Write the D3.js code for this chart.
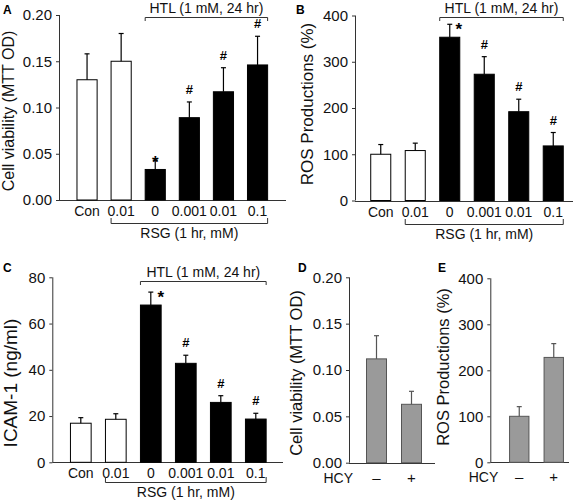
<!DOCTYPE html>
<html><head><meta charset="utf-8">
<script src="https://cdn.jsdelivr.net/npm/d3@7/dist/d3.min.js"></script>
<style>
html,body{margin:0;padding:0;background:#fff;}
svg{display:block;font-family:"Liberation Sans",Arial,sans-serif;}
</style></head>
<body>
<svg id="chart" width="576" height="503"></svg>
<script>
// ---- data ----
const treatCats = ["Con", "0.01", "0", "0.001", "0.01", "0.1"];
const treatFill = ["white", "white", "black", "black", "black", "black"];
const treatMarks = ["", "", "*", "#", "#", "#"];

const viabilityA = [0.130, 0.150, 0.033, 0.089, 0.117, 0.146];
const viabilityErrA = [0.028, 0.030, 0.010, 0.017, 0.026, 0.031];

const rosB = [100, 108, 353, 273, 192, 118];
const rosErrB = [21, 16, 28, 38, 27, 29];

const icamC = [16.9, 18.6, 68.0, 42.8, 25.9, 18.7];
const icamErrC = [2.4, 2.4, 5.6, 3.5, 2.9, 2.5];

const hcyCats = ["–", "+"];
const viabilityD = [0.112, 0.063];
const viabilityErrD = [0.025, 0.014];
const rosE = [100, 228];
const rosErrE = [21, 30];

const ticksViability = [0, 0.05, 0.10, 0.15, 0.20];
const ticksRos = [0, 100, 200, 300, 400];
const ticksIcam = [0, 20, 40, 60, 80];

const htlLabel = "HTL (1 mM, 24 hr)";
const rsgLabel = "RSG (1 hr, mM)";

// ---- drawing ----
const svg = d3.select("#chart");
const AXC = "#333";

function panel(o) {
  const g = svg.append("g");
  const n = o.values.length;
  const x = d3.scaleBand().domain(d3.range(n)).range([o.x0, o.x1])
    .paddingInner(o.pad).paddingOuter(o.pad / 2);
  const y = d3.scaleLinear().domain(o.domain).range([o.yBottom, o.yTop]);
  const bw = x.bandwidth();

  // y axis
  const ax = g.append("g").attr("transform", `translate(${o.axisX},0)`)
    .call(d3.axisLeft(y).tickValues(o.ticks).tickFormat(o.fmt).tickSize(3).tickPadding(4));
  ax.select(".domain").remove();
  ax.selectAll(".tick line").attr("stroke", AXC);
  ax.selectAll("text").attr("font-size", 15).attr("fill", "#111")
    .attr("font-family", "Liberation Sans, Arial, sans-serif");
  g.append("line").attr("x1", o.axisX + 0.5).attr("x2", o.axisX + 0.5)
    .attr("y1", y(o.domain[1])).attr("y2", y(0)).attr("stroke", AXC);
  // x axis line
  g.append("line").attr("x1", o.axisX).attr("x2", o.xEnd)
    .attr("y1", Math.round(y(0)) + 0.5).attr("y2", Math.round(y(0)) + 0.5).attr("stroke", AXC);

  // bars
  g.selectAll("rect.bar").data(o.values).join("rect")
    .attr("x", (d, i) => x(i) + 0.5).attr("width", bw - 1)
    .attr("y", d => y(d)).attr("height", d => y(0) - y(d))
    .attr("fill", (d, i) => o.fills[i]).attr("stroke", o.barStroke).attr("stroke-width", 1);

  // error bars (upper only)
  const eg = g.selectAll("g.err").data(o.values).join("g");
  eg.append("line")
    .attr("x1", (d, i) => x(i) + bw / 2).attr("x2", (d, i) => x(i) + bw / 2)
    .attr("y1", d => y(d)).attr("y2", (d, i) => y(d + o.errs[i]))
    .attr("stroke", o.errColor).attr("stroke-width", 1.2);
  eg.append("line")
    .attr("x1", (d, i) => x(i) + bw / 2 - 2.5).attr("x2", (d, i) => x(i) + bw / 2 + 2.5)
    .attr("y1", (d, i) => y(d + o.errs[i])).attr("y2", (d, i) => y(d + o.errs[i]))
    .attr("stroke", o.errColor).attr("stroke-width", 1.2);

  // significance marks
  if (o.marks) {
    g.selectAll("text.mark").data(o.values).join("text")
      .text((d, i) => o.marks[i])
      .attr("x", (d, i) => x(i) + bw / 2 + (o.marks[i] === "*" ? o.starDx : 0))
      .attr("y", (d, i) => y(d + o.errs[i]) + (o.marks[i] === "*" ? o.starDy : -8))
      .attr("text-anchor", "middle")
      .attr("font-size", (d, i) => o.marks[i] === "*" ? 17 : 13)
      .attr("font-weight", "bold")
      .attr("fill", "#000");
  }

  // category labels
  if (o.catsAtBars) {
    g.selectAll("text.cat").data(o.cats).join("text")
      .text(d => d)
      .attr("x", (d, i) => x(i) + bw / 2)
      .attr("y", y(0) + 16)
      .attr("text-anchor", "middle")
      .attr("font-size", o.catSize).attr("fill", "#111");
  }

  // y title
  g.append("text").text(o.title)
    .attr("transform", `translate(${o.titleX},${o.titleY}) rotate(-90)`)
    .attr("text-anchor", "middle").attr("font-size", o.titleSize).attr("fill", "#111");

  // panel letter
  g.append("text").text(o.letter).attr("x", o.letterX).attr("y", o.letterY)
    .attr("font-size", 12).attr("font-weight", "bold").attr("fill", "#000");

  // brackets
  if (o.brackets) {
    const b0 = x(2), b1 = x(n - 1) + bw;
    const hy = o.htlY;
    g.append("path").attr("d", `M${b0 + 0.5},${hy + 4}V${hy + 0.5}H${b1 - 0.5}V${hy + 4}`)
      .attr("fill", "none").attr("stroke", AXC);
    g.append("text").text(htlLabel).attr("x", (b0 + b1) / 2).attr("y", hy - 4)
      .attr("text-anchor", "middle").attr("font-size", 14).attr("fill", "#111");
    const r0 = x(1), ry = Math.round(y(0)) + o.rsgDy;
    g.append("path").attr("d", `M${r0 + 0.5},${ry - 5}V${ry + 0.5}H${b1 - 0.5}V${ry - 5}`)
      .attr("fill", "none").attr("stroke", AXC);
    g.append("text").text(rsgLabel).attr("x", (r0 + b1) / 2).attr("y", ry + 15)
      .attr("text-anchor", "middle").attr("font-size", 14).attr("fill", "#111");
  }

  // HCY row
  if (o.hcy) {
    g.append("text").text("HCY").attr("x", o.axisX + o.hcyDx).attr("y", y(0) + 20)
      .attr("text-anchor", "end").attr("font-size", 14).attr("fill", "#111");
    g.selectAll("text.hcy").data(o.cats).join("text").text(d => d)
      .attr("x", (d, i) => x(i) + bw / 2).attr("y", y(0) + 20)
      .attr("text-anchor", "middle").attr("font-size", 15).attr("fill", "#111");
  }
}

const f2 = d3.format(".2f"), f0 = d3.format("d");

panel({ letter: "A", letterX: 3, letterY: 14, values: viabilityA, errs: viabilityErrA,
  fills: treatFill, marks: treatMarks, cats: treatCats, catsAtBars: true, catSize: 14,
  x0: 70, x1: 274.6, pad: 0.38, axisX: 59, xEnd: 286, domain: [0, 0.2], yBottom: 200, yTop: 15,
  ticks: ticksViability, fmt: f2, title: "Cell viability (MTT OD)", titleSize: 16, titleX: 14, titleY: 111,
  barStroke: "#000", errColor: "#000", starDx: 0, starDy: 8, brackets: true, htlY: 17, rsgDy: 23 });

panel({ letter: "B", letterX: 296, letterY: 14, values: rosB, errs: rosErrB,
  fills: treatFill, marks: treatMarks, cats: treatCats, catsAtBars: true, catSize: 14,
  x0: 363.5, x1: 570.5, pad: 0.39, axisX: 355, xEnd: 573, domain: [0, 400], yBottom: 200.5, yTop: 15.5,
  ticks: ticksRos, fmt: f0, title: "ROS Productions (%)", titleSize: 17, titleX: 313, titleY: 104,
  barStroke: "#000", errColor: "#000", starDx: 9, starDy: 11, brackets: true, htlY: 17, rsgDy: 23 });

panel({ letter: "C", letterX: 3, letterY: 272, values: icamC, errs: icamErrC,
  fills: treatFill, marks: treatMarks, cats: treatCats, catsAtBars: true, catSize: 14,
  x0: 63.3, x1: 273.3, pad: 0.38, axisX: 52.3, xEnd: 283, domain: [0, 80], yBottom: 462.3, yTop: 277.3,
  ticks: ticksIcam, fmt: f0, title: "ICAM-1 (ng/ml)", titleSize: 19, titleX: 17, titleY: 383,
  barStroke: "#000", errColor: "#000", starDx: 10, starDy: 11, brackets: true, htlY: 281, rsgDy: 20 });

panel({ letter: "D", letterX: 298, letterY: 272, values: viabilityD, errs: viabilityErrD,
  fills: ["#9a9a9a", "#9a9a9a"], cats: hcyCats, catsAtBars: false,
  x0: 359, x1: 429, pad: 0.4, axisX: 349, xEnd: 435, domain: [0, 0.2], yBottom: 462.7, yTop: 277.3,
  ticks: ticksViability, fmt: f2, title: "Cell viability (MTT OD)", titleSize: 16.5, titleX: 302, titleY: 373,
  barStroke: "#555", errColor: "#555", hcy: true, hcyDx: 4 });

panel({ letter: "E", letterX: 438, letterY: 272, values: rosE, errs: rosErrE,
  fills: ["#9a9a9a", "#9a9a9a"], cats: hcyCats, catsAtBars: false,
  x0: 502, x1: 571, pad: 0.41, axisX: 490.3, xEnd: 569, domain: [0, 400], yBottom: 462.3, yTop: 278.3,
  ticks: ticksRos, fmt: f0, title: "ROS Productions (%)", titleSize: 16.5, titleX: 449, titleY: 367,
  barStroke: "#555", errColor: "#555", hcy: true, hcyDx: 8 });
</script>
</body></html>
